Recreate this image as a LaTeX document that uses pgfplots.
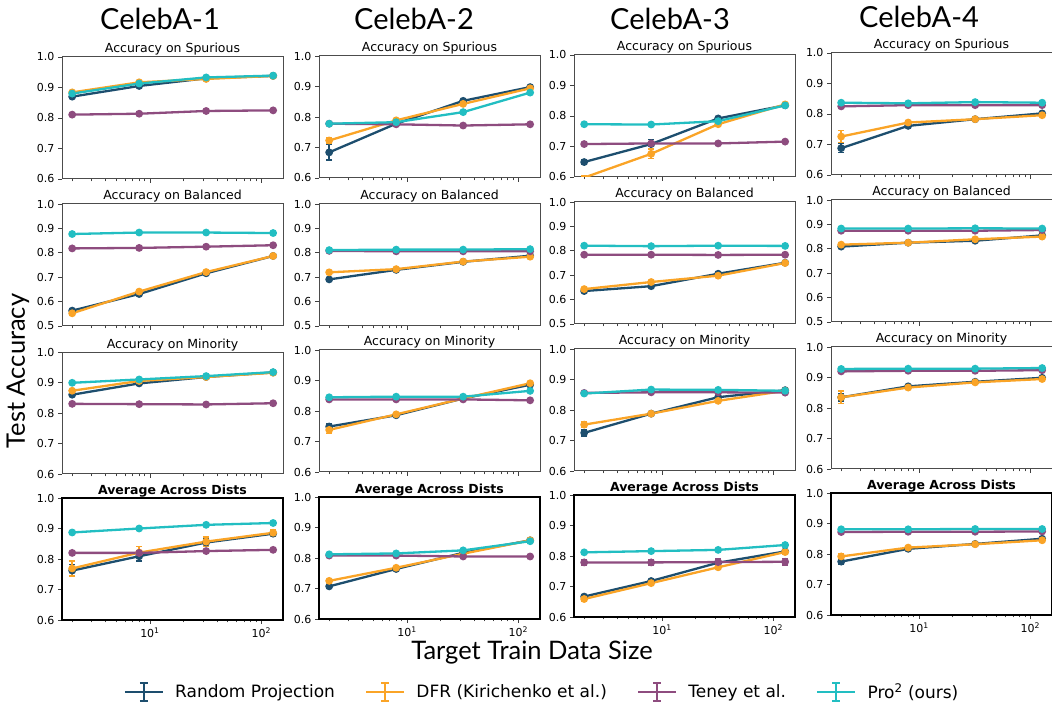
\documentclass[border=0pt]{standalone}
\usepackage{fontspec}
\setmainfont{DejaVu Sans}
\newfontfamily\titlefont{Lato}
\usepackage{pgfplots}
\usepackage{pgfplotstable}
\pgfplotsset{compat=1.18}

\definecolor{rpcol}{HTML}{1D4E6E}
\definecolor{dfrcol}{HTML}{FAA427}
\definecolor{tencol}{HTML}{8E4C7F}
\definecolor{procol}{HTML}{22BEC2}

\newcommand\oneser[4]{%
  \addplot[color=#1, line width=2.3pt, mark=*, mark size=2.7pt,
    mark options={solid, fill=#1},
    error bars/.cd, y dir=both, y explicit,
    error bar style={line width=1.6pt, color=#1},
    error mark options={rotate=90, mark size=3pt, line width=1.5pt, color=#1}]
    table[x=x, y=#2, y error=#3]{#4};
}
\newcommand\series[1]{%
  \oneser{rpcol}{rp}{erp}{#1}
  \oneser{dfrcol}{dfr}{edfr}{#1}
  \oneser{tencol}{ten}{eten}{#1}
  \oneser{procol}{pro}{epro}{#1}
}
% #1 x, #2 y (top-left), #3 title, #4 extra options, #5 table
\newcommand\panel[5]{%
  \begin{axis}[xmode=log, xmin=1.62, xmax=157, ymax=1.0,
    scale only axis, width=221pt, height=122pt,
    xtick={10,100},
    minor xtick={2,3,4,5,6,7,8,9,20,30,40,50,60,70,80,90},
    tick pos=left, tick align=outside,
    major tick length=4pt, minor tick length=2.5pt,
    tick style={black!75, line width=0.8pt},
    axis line style={black!70, line width=1pt},
    ticklabel style={font=\fontsize{11}{11}\selectfont},
    /pgf/number format/assume math mode=true,
    yticklabel style={/pgf/number format/fixed, /pgf/number format/fixed zerofill, /pgf/number format/precision=1},
    title style={anchor=base, yshift=-2pt, font=\fontsize{12.5}{13}\selectfont},
    #4,
    title={#3}, at={(#1pt,#2pt)}, anchor=north west]
  \series{#5}
  \end{axis}%
}

% ---------- CelebA-1
\pgfplotstableread{
x rp erp dfr edfr ten eten pro epro
2 0.870 0.006 0.884 0.004 0.811 0.002 0.880 0.003
8 0.905 0.003 0.917 0.003 0.814 0.002 0.913 0.002
32 0.930 0.003 0.928 0.002 0.823 0.002 0.933 0.002
128 0.938 0.002 0.938 0.002 0.825 0.002 0.939 0.002
}\tAa
\pgfplotstableread{
x rp erp dfr edfr ten eten pro epro
2 0.563 0.005 0.552 0.005 0.818 0.002 0.877 0.002
8 0.631 0.003 0.641 0.004 0.820 0.002 0.883 0.002
32 0.716 0.003 0.721 0.003 0.825 0.002 0.883 0.002
128 0.787 0.002 0.787 0.002 0.831 0.002 0.881 0.002
}\tBa
\pgfplotstableread{
x rp erp dfr edfr ten eten pro epro
2 0.860 0.004 0.873 0.004 0.830 0.002 0.899 0.002
8 0.897 0.003 0.905 0.003 0.829 0.002 0.910 0.002
32 0.918 0.002 0.918 0.002 0.828 0.002 0.921 0.002
128 0.933 0.002 0.932 0.002 0.832 0.002 0.934 0.002
}\tCa
\pgfplotstableread{
x rp erp dfr edfr ten eten pro epro
2 0.762 0.020 0.769 0.025 0.820 0.003 0.887 0.002
8 0.809 0.015 0.821 0.020 0.820 0.003 0.900 0.002
32 0.854 0.012 0.857 0.015 0.826 0.003 0.912 0.002
128 0.883 0.008 0.886 0.010 0.830 0.003 0.918 0.002
}\tDa
% ---------- CelebA-2
\pgfplotstableread{
x rp erp dfr edfr ten eten pro epro
2 0.684 0.025 0.723 0.010 0.778 0.002 0.778 0.002
8 0.778 0.006 0.789 0.005 0.776 0.002 0.783 0.002
32 0.853 0.003 0.843 0.003 0.772 0.002 0.816 0.002
128 0.898 0.003 0.894 0.003 0.776 0.002 0.880 0.003
}\tAb
\pgfplotstableread{
x rp erp dfr edfr ten eten pro epro
2 0.691 0.004 0.720 0.003 0.808 0.002 0.811 0.002
8 0.730 0.003 0.733 0.003 0.806 0.002 0.813 0.002
32 0.763 0.002 0.764 0.002 0.806 0.002 0.813 0.002
128 0.788 0.002 0.784 0.002 0.806 0.002 0.815 0.002
}\tBb
\pgfplotstableread{
x rp erp dfr edfr ten eten pro epro
2 0.749 0.008 0.738 0.012 0.838 0.002 0.845 0.002
8 0.786 0.004 0.789 0.005 0.838 0.002 0.847 0.002
32 0.841 0.003 0.841 0.003 0.838 0.002 0.847 0.002
128 0.886 0.003 0.891 0.003 0.835 0.002 0.866 0.002
}\tCb
\pgfplotstableread{
x rp erp dfr edfr ten eten pro epro
2 0.707 0.004 0.725 0.004 0.808 0.002 0.812 0.002
8 0.764 0.003 0.768 0.003 0.808 0.002 0.815 0.002
32 0.817 0.003 0.814 0.003 0.805 0.002 0.825 0.002
128 0.858 0.003 0.858 0.003 0.805 0.002 0.855 0.002
}\tDb
% ---------- CelebA-3
\pgfplotstableread{
x rp erp dfr edfr ten eten pro epro
2 0.649 0.008 0.598 0.005 0.708 0.002 0.773 0.002
8 0.708 0.015 0.676 0.015 0.710 0.002 0.772 0.002
32 0.792 0.003 0.773 0.003 0.710 0.002 0.783 0.002
128 0.835 0.003 0.838 0.003 0.716 0.002 0.835 0.002
}\tAc
\pgfplotstableread{
x rp erp dfr edfr ten eten pro epro
2 0.635 0.004 0.643 0.004 0.784 0.002 0.821 0.002
8 0.655 0.003 0.672 0.003 0.784 0.002 0.819 0.002
32 0.706 0.003 0.698 0.003 0.783 0.002 0.821 0.002
128 0.751 0.002 0.750 0.002 0.784 0.002 0.820 0.002
}\tBc
\pgfplotstableread{
x rp erp dfr edfr ten eten pro epro
2 0.725 0.010 0.752 0.010 0.856 0.002 0.854 0.003
8 0.788 0.004 0.788 0.004 0.858 0.002 0.867 0.002
32 0.842 0.003 0.830 0.003 0.858 0.002 0.866 0.002
128 0.865 0.002 0.863 0.002 0.857 0.002 0.863 0.002
}\tCc
\pgfplotstableread{
x rp erp dfr edfr ten eten pro epro
2 0.667 0.005 0.659 0.008 0.779 0.010 0.812 0.002
8 0.718 0.005 0.711 0.005 0.779 0.010 0.816 0.002
32 0.778 0.004 0.763 0.005 0.780 0.010 0.820 0.002
128 0.815 0.004 0.813 0.008 0.781 0.010 0.836 0.002
}\tDc
% ---------- CelebA-4
\pgfplotstableread{
x rp erp dfr edfr ten eten pro epro
2 0.688 0.015 0.726 0.020 0.825 0.002 0.837 0.002
8 0.761 0.004 0.772 0.004 0.829 0.002 0.835 0.002
32 0.783 0.003 0.783 0.003 0.829 0.002 0.839 0.002
128 0.802 0.003 0.796 0.003 0.829 0.002 0.837 0.002
}\tAd
\pgfplotstableread{
x rp erp dfr edfr ten eten pro epro
2 0.809 0.003 0.817 0.003 0.874 0.002 0.883 0.002
8 0.825 0.002 0.825 0.002 0.874 0.002 0.883 0.002
32 0.833 0.002 0.839 0.002 0.874 0.002 0.884 0.002
128 0.855 0.002 0.850 0.002 0.877 0.002 0.883 0.002
}\tBd
\pgfplotstableread{
x rp erp dfr edfr ten eten pro epro
2 0.835 0.012 0.835 0.020 0.920 0.002 0.928 0.002
8 0.871 0.003 0.867 0.003 0.922 0.002 0.929 0.002
32 0.886 0.002 0.884 0.002 0.922 0.002 0.929 0.002
128 0.899 0.002 0.895 0.002 0.924 0.002 0.931 0.002
}\tCd
\pgfplotstableread{
x rp erp dfr edfr ten eten pro epro
2 0.775 0.008 0.792 0.008 0.872 0.002 0.881 0.002
8 0.817 0.004 0.821 0.004 0.873 0.002 0.881 0.002
32 0.833 0.003 0.832 0.003 0.873 0.002 0.882 0.002
128 0.850 0.003 0.845 0.003 0.874 0.002 0.882 0.002
}\tDd

\begin{document}
\begin{tikzpicture}[x=1pt,y=1pt]
\useasboundingbox (0,0) rectangle (1052,705);

% column titles
\node[font=\titlefont\fontsize{29}{29}\selectfont] at (160,686) {CelebA-1};
\node[font=\titlefont\fontsize{29}{29}\selectfont] at (414,686) {CelebA-2};
\node[font=\titlefont\fontsize{29}{29}\selectfont] at (670,686) {CelebA-3};
\node[font=\titlefont\fontsize{29}{29}\selectfont] at (919,688) {CelebA-4};
\node[font=\titlefont\fontsize{25.5}{26}\selectfont, rotate=90] at (18,334) {Test Accuracy};
\node[font=\titlefont\fontsize{25.5}{26}\selectfont] at (532,52) {Target Train Data Size};

% column 1
\panel{62}{648}{Accuracy on Spurious}{xticklabels={}, ymin=0.6, ytick={0.6,0.7,0.8,0.9,1.0}}{\tAa}
\panel{62}{501}{Accuracy on Balanced}{xticklabels={}, ymin=0.5, ytick={0.5,0.6,0.7,0.8,0.9,1.0}}{\tBa}
\panel{62}{353}{Accuracy on Minority}{xticklabels={}, ymin=0.6, ytick={0.6,0.7,0.8,0.9,1.0}}{\tCa}
\panel{62}{207}{\textbf{Average Across Dists}}{ymin=0.6, ytick={0.6,0.7,0.8,0.9,1.0}, xticklabels={10\textsuperscript{1},10\textsuperscript{2}}, axis line style={black, line width=2.6pt}}{\tDa}
% column 2
\panel{319}{649}{Accuracy on Spurious}{xticklabels={}, ymin=0.6, ytick={0.6,0.7,0.8,0.9,1.0}}{\tAb}
\panel{319}{501}{Accuracy on Balanced}{xticklabels={}, ymin=0.5, ytick={0.5,0.6,0.7,0.8,0.9,1.0}}{\tBb}
\panel{319}{355}{Accuracy on Minority}{xticklabels={}, ymin=0.6, ytick={0.6,0.7,0.8,0.9,1.0}}{\tCb}
\panel{319}{208}{\textbf{Average Across Dists}}{ymin=0.6, ytick={0.6,0.7,0.8,0.9,1.0}, xticklabels={10\textsuperscript{1},10\textsuperscript{2}}, axis line style={black, line width=2.6pt}}{\tDb}
% column 3
\panel{574}{650}{Accuracy on Spurious}{xticklabels={}, ymin=0.6, ytick={0.6,0.7,0.8,0.9,1.0}}{\tAc}
\panel{574}{503}{Accuracy on Balanced}{xticklabels={}, ymin=0.5, ytick={0.5,0.6,0.7,0.8,0.9,1.0}}{\tBc}
\panel{574}{356}{Accuracy on Minority}{xticklabels={}, ymin=0.6, ytick={0.6,0.7,0.8,0.9,1.0}}{\tCc}
\panel{574}{210}{\textbf{Average Across Dists}}{ymin=0.6, ytick={0.6,0.7,0.8,0.9,1.0}, xticklabels={10\textsuperscript{1},10\textsuperscript{2}}, axis line style={black, line width=2.6pt}}{\tDc}
% column 4
\panel{831}{652}{Accuracy on Spurious}{xticklabels={}, ymin=0.6, ytick={0.6,0.7,0.8,0.9,1.0}}{\tAd}
\panel{831}{505}{Accuracy on Balanced}{xticklabels={}, ymin=0.5, ytick={0.5,0.6,0.7,0.8,0.9,1.0}}{\tBd}
\panel{831}{358}{Accuracy on Minority}{xticklabels={}, ymin=0.6, ytick={0.6,0.7,0.8,0.9,1.0}}{\tCd}
\panel{831}{212}{\textbf{Average Across Dists}}{ymin=0.6, ytick={0.6,0.7,0.8,0.9,1.0}, xticklabels={10\textsuperscript{1},10\textsuperscript{2}}, axis line style={black, line width=2.6pt}}{\tDd}

% legend
\begin{axis}[hide axis, scale only axis,
  width=10pt, height=10pt, xmin=0, xmax=1, ymin=0, ymax=1,
  legend columns=4,
  legend style={at={(0.5,0.5)}, anchor=center, draw=none, fill=none,
    font=\fontsize{17}{17}\selectfont,
    /tikz/every odd column/.append style={column sep=9pt},
    /tikz/every even column/.append style={column sep=28pt}},
  legend image code/.code={
    \draw[line width=2.5pt] (0pt,0pt) -- (38pt,0pt);
    \draw[line width=2pt] (19pt,-9pt) -- (19pt,9pt);
    \draw[line width=1.6pt] (15pt,-9pt) -- (23pt,-9pt);
    \draw[line width=1.6pt] (15pt,9pt) -- (23pt,9pt);
  }, at={(542pt,13pt)}, anchor=center]
\addlegendimage{rpcol}\addlegendentry{Random Projection}
\addlegendimage{dfrcol}\addlegendentry{DFR (Kirichenko et al.)}
\addlegendimage{tencol}\addlegendentry{Teney et al.}
\addlegendimage{procol}\addlegendentry{Pro\textsuperscript{2} (ours)}
\end{axis}
\end{tikzpicture}
\end{document}
